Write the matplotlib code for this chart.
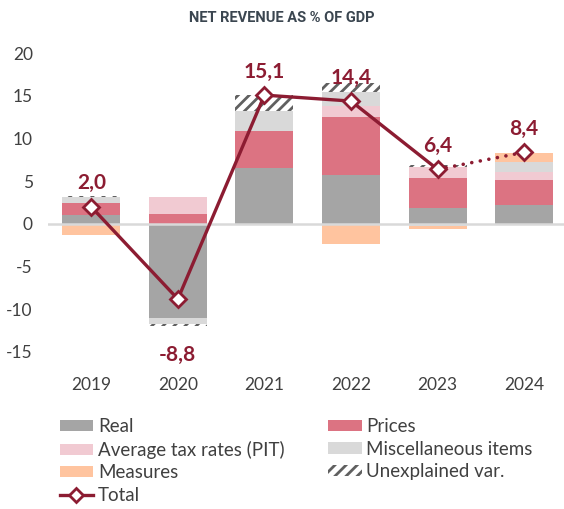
import matplotlib
matplotlib.use('Agg')
import matplotlib.pyplot as plt
from matplotlib.patches import Patch
from matplotlib.lines import Line2D
import numpy as np

years = ['2019', '2020', '2021', '2022', '2023', '2024']
real = [1.1, -11.0, 6.5, 5.77, 1.87, 2.26]
prices = [1.35, 1.17, 4.35, 6.8, 3.5, 2.85]
pit = [0.0, 1.95, 0.0, 1.3, 1.25, 1.0]
misc = [0.7, -0.7, 2.35, 1.55, -0.25, 1.13]
unexplained = [0.15, -0.2, 1.9, 1.05, 0.3, 0.0]
measures = [-1.25, -0.1, 0.0, -2.34, -0.3, 1.1]
total = [2.0, -8.8, 15.1, 14.4, 6.4, 8.4]
total_labels = ['2,0', '-8,8', '15,1', '14,4', '6,4', '8,4']

plt.rcParams['font.family'] = ['Lato', 'DejaVu Sans']
plt.rcParams['hatch.linewidth'] = 2.0
plt.rcParams['axes.unicode_minus'] = False

dark_red = '#8c1c32'
series = [
    ('Real', real, dict(facecolor='#a5a5a5', edgecolor='#a5a5a5')),
    ('Prices', prices, dict(facecolor='#dc7382', edgecolor='#dc7382')),
    ('Average tax rates (PIT)', pit, dict(facecolor='#f1cad2', edgecolor='#f1cad2')),
    ('Miscellaneous items', misc, dict(facecolor='#d9d9d9', edgecolor='#d9d9d9')),
    ('Unexplained var.', unexplained, dict(facecolor='white', hatch='///', edgecolor='#606060')),
    ('Measures', measures, dict(facecolor='#ffc49f', edgecolor='#ffc49f')),
]

fig = plt.figure(figsize=(5.64, 5.09), dpi=100)
ax = fig.add_axes([48 / 564, 0.3085, 1 - 48 / 564, 0.5868])

x = np.arange(len(years))
width = 0.67
pos_base = np.zeros(len(years))
neg_base = np.zeros(len(years))
handles = {}
for name, vals, style in series:
    vals = np.array(vals)
    pos = np.where(vals > 0, vals, 0)
    neg = np.where(vals < 0, vals, 0)
    ax.bar(x, pos, width, bottom=pos_base, linewidth=0, **style)
    ax.bar(x, neg, width, bottom=neg_base, linewidth=0, **style)
    pos_base += pos
    neg_base += neg
    handles[name] = Patch(linewidth=0, **style)

ax.axhline(0, color='#d9d9d9', linewidth=1.8, zorder=1)

ax.plot(x[:5], total[:5], color=dark_red, linewidth=2.4, zorder=4)
ax.plot(x[4:], total[4:], color=dark_red, linewidth=2.6, linestyle=(0, (0.01, 2.4)),
        dash_capstyle='round', zorder=4)
ax.plot(x, total, linestyle='none', marker='D', markersize=8.5, markerfacecolor='white',
        markeredgecolor=dark_red, markeredgewidth=2, zorder=5)

for xi, v, lab in zip(x, total, total_labels):
    off = 17 if v > 0 else -40
    ax.annotate(lab, (xi, v), xytext=(0, off), textcoords='offset points',
                ha='center', va='center', fontsize=15, fontweight='bold', color=dark_red)

ax.set_xlim(-0.5, 5.46)
ax.set_ylim(-15, 20)
ax.set_yticks([-15, -10, -5, 0, 5, 10, 15, 20])
ax.set_xticks(x)
ax.set_xticklabels(years)
ax.tick_params(axis='both', length=0, labelsize=12.5, colors='#404040')
ax.tick_params(axis='x', pad=18)
ax.tick_params(axis='y', pad=11)
for s in ax.spines.values():
    s.set_visible(False)

fig.text(0.5, 0.965, 'NET REVENUE AS % OF GDP', ha='center', va='center',
         fontsize=10.5, fontweight='bold', color='#3b4650', family='Roboto')

total_handle = Line2D([], [], color=dark_red, linewidth=2.4, marker='D', markersize=7,
                      markerfacecolor='white', markeredgecolor=dark_red, markeredgewidth=2)
order = ['Real', 'Average tax rates (PIT)', 'Measures', 'Total',
         'Prices', 'Miscellaneous items', 'Unexplained var.']
handles['Total'] = total_handle
fig.legend([handles[k] for k in order], order, ncol=2, loc='upper left',
           bbox_to_anchor=(0.089, 0.197), frameon=False, fontsize=13.5,
           handlelength=1.8, handleheight=0.55, handletextpad=0.25,
           labelspacing=0.3, columnspacing=2.3, borderpad=0, labelcolor='#404040')

fig.savefig('out.png', dpi=100)
